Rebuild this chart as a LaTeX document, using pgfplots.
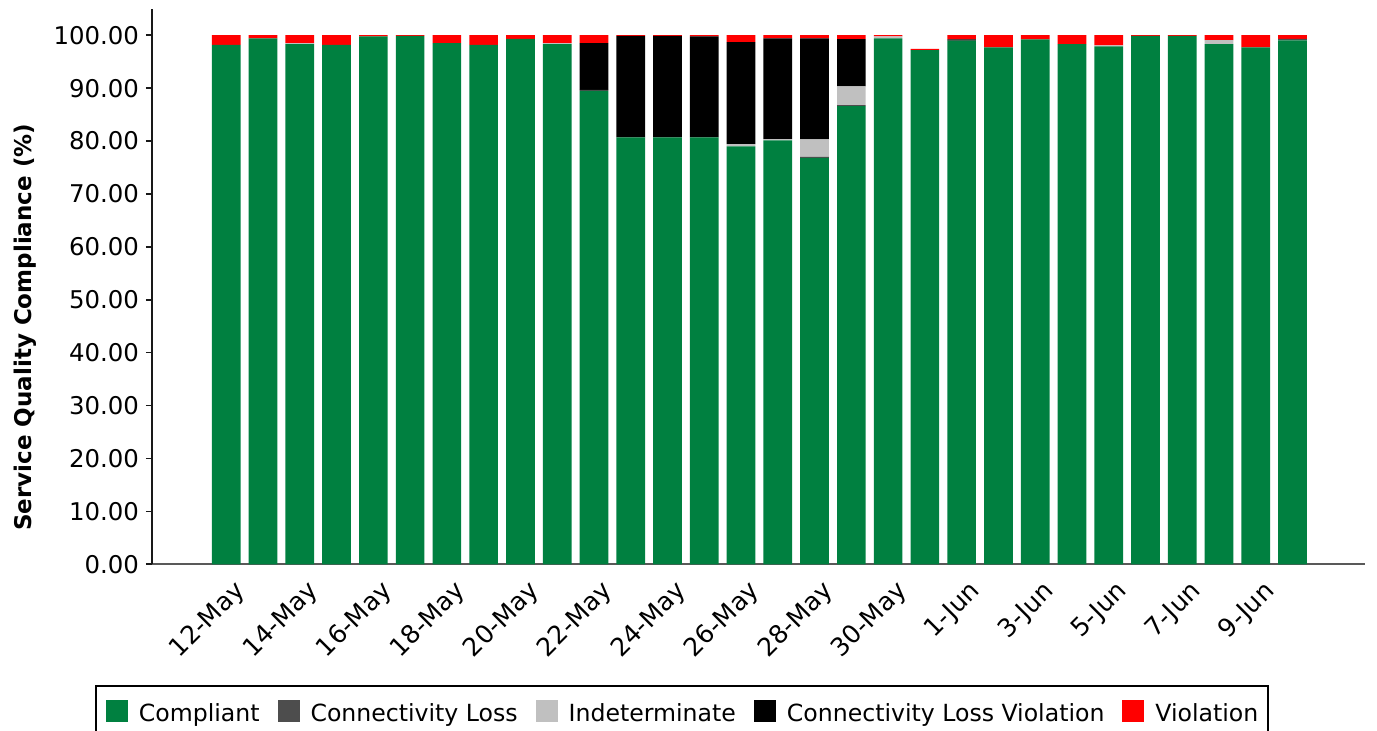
\documentclass[border=0pt]{standalone}
\usepackage{pgfplots}
\usepackage{pgfplotstable}
\pgfplotsset{compat=1.18}
\usepackage{fontspec}
\setmainfont{DejaVu Sans}

\definecolor{compliant}{RGB}{0,128,64}
\definecolor{connloss}{RGB}{77,77,77}
\definecolor{indet}{RGB}{192,192,192}
\definecolor{violation}{RGB}{255,0,0}
\definecolor{xline}{RGB}{89,89,89}

% day index (0 = 12-May), shares in %
\pgfplotstableread{
x  comp  cl    ind  clv    vio
0  98.2  0     0    0      1.8
1  99.4  0     0    0      0.6
2  98.3  0     0.2  0      1.5
3  98.2  0     0    0      1.8
4  99.8  0     0    0      0.2
5  99.9  0     0    0      0.1
6  98.5  0     0    0      1.5
7  98.2  0     0    0      1.8
8  99.3  0     0    0      0.7
9  98.3  0     0.2  0      1.5
10 89.5  0.15  0    8.85   1.5
11 80.7  0     0    19.2   0.1
12 80.7  0     0    19.2   0.1
13 80.7  0     0    19.1   0.2
14 79.0  0     0.4  19.3   1.3
15 80.15 0     0.2  19.05  0.6
16 76.8  0.2   3.3  19.1   0.6
17 86.6  0.2   3.55 8.9    0.75
18 99.4  0     0.4  0      0.2
19 97.2  0     0    0      0.2
20 99.0  0     0    0.2    0.8
21 97.7  0     0    0      2.3
22 99.2  0     0    0      0.8
23 98.3  0     0    0      1.7
24 97.9  0     0.2  0      1.9
25 99.9  0     0    0      0.1
26 99.9  0     0    0      0.1
27 98.3  0     0.8  0      0.9
28 97.7  0     0    0      2.3
29 99.05 0.25  0    0      0.7
}\datatable

\begin{document}
\begin{tikzpicture}
\useasboundingbox (-76pt,-83.35pt) rectangle (612.5pt,282.15pt);
\begin{axis}[
  at={(0,0)}, anchor=south west,
  scale only axis,
  width=606.5pt, height=277.75pt,
  font=\fontsize{11.8}{14}\selectfont,
  ybar stacked,
  bar width=0.78,
  xmin=-2.02, xmax=30.97,
  ymin=0, ymax=105,
  axis x line*=bottom,
  axis y line*=left,
  x axis line style={draw=xline, line width=1pt, -},
  y axis line style={draw=black!90, line width=1pt, -},
  xtick={0,2,...,28},
  xticklabels={12-May,14-May,16-May,18-May,20-May,22-May,24-May,26-May,28-May,30-May,1-Jun,3-Jun,5-Jun,7-Jun,9-Jun},
  x tick style={draw=none},
  xticklabel style={font=\fontsize{12.6}{15}\selectfont, xshift=7.5pt, yshift=-8.5pt, rotate=45, anchor=east, inner sep=0pt},
  ytick={0,10,...,100},
  tick align=outside,
  major tick length=3pt,
  y tick style={line width=0.8pt, black!90},
  yticklabel style={font=\fontsize{12.2}{14}\selectfont, /pgf/number format/.cd, fixed, fixed zerofill, precision=2},
  /pgf/number format/assume math mode=true,
  ylabel={Service Quality Compliance (\%)},
  every axis y label/.style={at={(axis description cs:-0.1047,0.4266)}, rotate=90, anchor=center, font=\fontsize{11.5}{14}\selectfont\bfseries},
  legend columns=-1,
  legend style={at={(0.437,-0.2173)}, anchor=north, draw=black, line width=1pt,
    inner xsep=5pt, inner ysep=7pt,
    nodes={inner sep=0pt},
    /tikz/every odd column/.append style={column sep=5.5pt},
    /tikz/every even column/.append style={column sep=9pt}},
  legend image code/.code={\fill[#1] (0pt,-3.85pt) rectangle (11pt,7.15pt);},
]
\addplot[fill=compliant, draw=none] table[x=x, y=comp] {\datatable};
\addlegendentry{Compliant}
\addplot[fill=connloss, draw=none] table[x=x, y=cl] {\datatable};
\addlegendentry{Connectivity Loss}
\addplot[fill=indet, draw=none] table[x=x, y=ind] {\datatable};
\addlegendentry{Indeterminate}
\addplot[fill=black, draw=none] table[x=x, y=clv] {\datatable};
\addlegendentry{Connectivity Loss Violation}
\addplot[fill=violation, draw=none] table[x=x, y=vio] {\datatable};
\addlegendentry{Violation}
\end{axis}
\end{tikzpicture}
\end{document}
